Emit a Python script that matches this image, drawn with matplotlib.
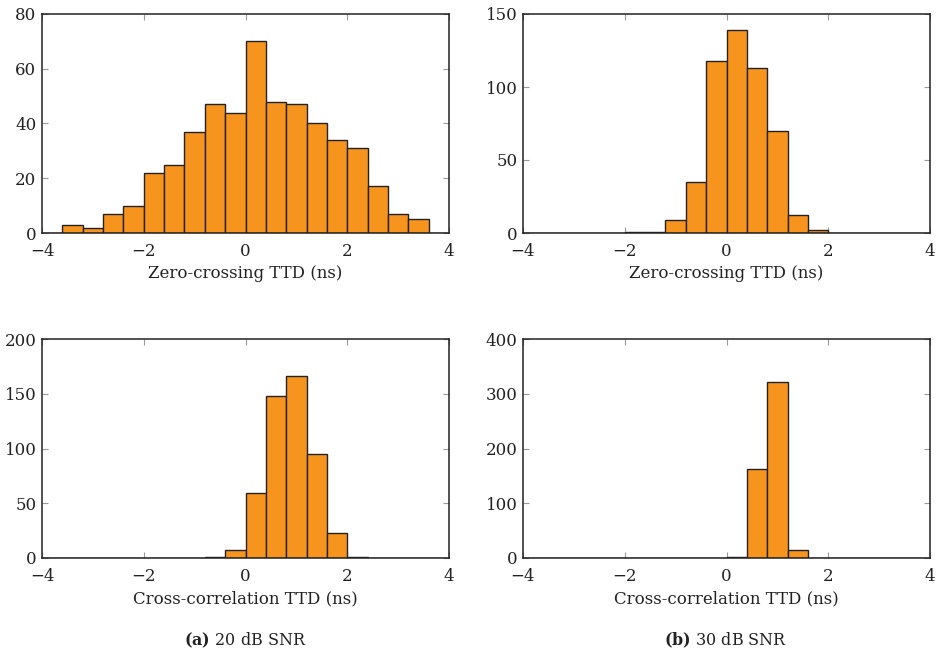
import numpy as np
import matplotlib
matplotlib.use('Agg')
from matplotlib import pyplot as plt

plt.rcParams['font.family'] = ['DejaVu Serif']
plt.rcParams['mathtext.fontset'] = 'dejavuserif'

# bin edges shared by all four histograms (ns)
bin_lo, bin_hi, n_bins = -4, 4, 20

# counts per bin
zc_20db = [0, 3, 2, 7, 10, 22, 25, 37, 47, 44, 70, 48, 47, 40, 34, 31, 17, 7, 5, 0]
zc_30db = [0, 0, 0, 0, 0, 1, 1, 9, 35, 118, 139, 113, 70, 12, 2, 0, 0, 0, 0, 0]
xc_20db = [0, 0, 0, 0, 0, 0, 0, 0, 1, 7, 59, 148, 166, 95, 23, 1, 0, 0, 0, 0]
xc_30db = [0, 0, 0, 0, 0, 0, 0, 0, 0, 0, 1, 163, 321, 14, 0, 0, 0, 0, 0, 0]

ymax = [80, 150, 200, 400]
ystep = [20, 50, 50, 100]
xlabels = ['Zero-crossing TTD (ns)', 'Zero-crossing TTD (ns)',
           'Cross-correlation TTD (ns)', 'Cross-correlation TTD (ns)']
captions = [r'$\mathbf{(a)}$ 20 dB SNR', r'$\mathbf{(b)}$ 30 dB SNR']

bar_color = '#F7941D'
W, H = 936, 654

fig = plt.figure(figsize=(W / 100, H / 100), dpi=100)

# axes boxes in pixels: left, top, right, bottom
boxes = [(42, 14, 449, 233), (523, 14, 930, 233),
         (42, 339, 449, 558), (523, 339, 930, 558)]
series = [zc_20db, zc_30db, xc_20db, xc_30db]

edges = np.linspace(bin_lo, bin_hi, n_bins + 1)
width = edges[1] - edges[0]

for i, (box, counts) in enumerate(zip(boxes, series)):
    l, t, r, b = box
    ax = fig.add_axes([l / W, 1 - b / H, (r - l) / W, (b - t) / H])
    ax.bar(edges[:-1], counts, width=width, align='edge',
           color=bar_color, edgecolor='#222222', linewidth=1.0, zorder=2)
    ax.set_xlim(bin_lo, bin_hi)
    ax.set_ylim(0, ymax[i])
    ax.set_xticks([-4, -2, 0, 2, 4])
    ax.set_xticklabels(['\u22124', '\u22122', '0', '2', '4'])
    ax.set_yticks(np.arange(0, ymax[i] + 1, ystep[i]))
    ax.tick_params(direction='in', top=True, right=True, length=4,
                   color='#999999', labelsize=12, labelcolor='#222222')
    ax.tick_params(axis='x', pad=7)
    ax.tick_params(axis='y', pad=4)
    for s in ax.spines.values():
        s.set_linewidth(1.1)
        s.set_color('#222222')
        s.set_zorder(3)
    ax.set_xlabel(xlabels[i], fontsize=12, color='#222222', labelpad=4)

fig.text(245 / W, 1 - 640 / H, captions[0], ha='center', va='center',
         fontsize=11.5, color='#222222')
fig.text(726 / W, 1 - 640 / H, captions[1], ha='center', va='center',
         fontsize=11.5, color='#222222')

fig.savefig('out.png', dpi=100)
